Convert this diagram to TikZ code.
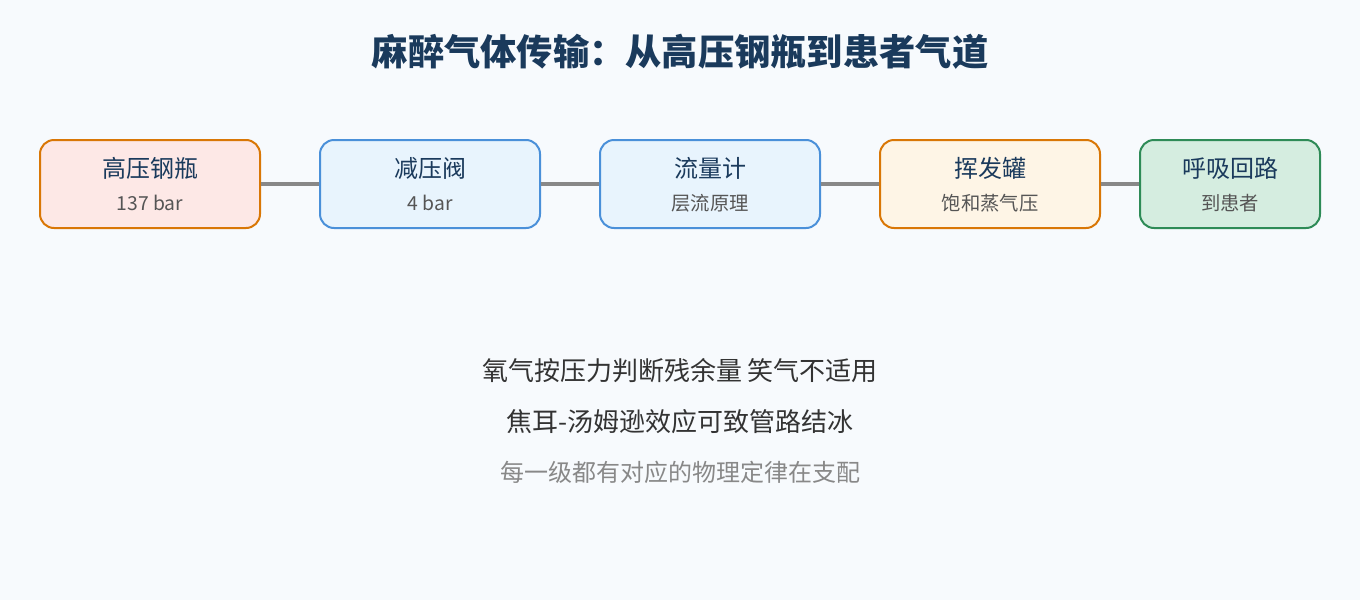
\documentclass[tikz,border=0pt]{standalone}
\usepackage{fontspec}
\setmainfont{Noto Sans CJK SC}
\definecolor{bgcol}{HTML}{F7FAFD}
\definecolor{titlecol}{HTML}{1A3A5C}
\definecolor{maincol}{HTML}{333333}
\definecolor{subcol}{HTML}{555555}
\definecolor{notecol}{HTML}{888888}
\definecolor{redfill}{HTML}{FDE8E6}
\definecolor{bluefill}{HTML}{E8F4FD}
\definecolor{yellowfill}{HTML}{FEF5E6}
\definecolor{greenfill}{HTML}{D5EDE0}
\definecolor{orangeline}{HTML}{D97706}
\definecolor{blueline}{HTML}{4A90D9}
\definecolor{greenline}{HTML}{2E8B57}

\begin{document}
\begin{tikzpicture}[x=0.75pt,y=-0.75pt,
  stage/.style={draw, line width=1.5pt, rounded corners=10.5pt, minimum height=66pt, inner sep=0pt},
  stagename/.style={text=titlecol, font=\fontsize{18pt}{20pt}\selectfont},
  stagesub/.style={text=subcol, font=\fontsize{14.5pt}{16pt}\selectfont},
  pipe/.style={draw=notecol, line width=3pt},
  note/.style={text=maincol, font=\fontsize{19.5pt}{22pt}\selectfont}]
\fill[bgcol] (0,0) rectangle (1360,600);
\node[text=titlecol, font=\fontsize{27.2pt}{30pt}\selectfont\bfseries] (title) at (680,52) {麻醉气体传输：从高压钢瓶到患者气道};
% edit here for the five stages
\foreach \x/\w/\id/\fillc/\drawc/\main/\sub in {
  150/165/bottle/redfill/orangeline/高压钢瓶/137 bar,
  430/165/valve/bluefill/blueline/减压阀/4 bar,
  710/165/flow/bluefill/blueline/流量计/层流原理,
  990/165/vap/yellowfill/orangeline/挥发罐/饱和蒸气压,
  1230/135/circuit/greenfill/greenline/呼吸回路/到患者}
{
  \node[stage, fill=\fillc, draw=\drawc, minimum width=\w pt] (\id) at (\x,184) {};
  \node[stagename] (\id-name) at (\x,168) {\main};
  \node[stagesub] (\id-sub) at (\x,203) {\sub};
}
\foreach \a/\b in {bottle/valve, valve/flow, flow/vap, vap/circuit} % edit here for the pipes
\draw[pipe] (\a.east) -- (\b.west);
\node[note] (note1) at (680,371) {氧气按压力判断残余量 笑气不适用};
\node[note] (note2) at (680,422) {焦耳-汤姆逊效应可致管路结冰};
\node[text=notecol, font=\fontsize{18pt}{20pt}\selectfont] (note3) at (680,472) {每一级都有对应的物理定律在支配};
\end{tikzpicture}
\end{document}
